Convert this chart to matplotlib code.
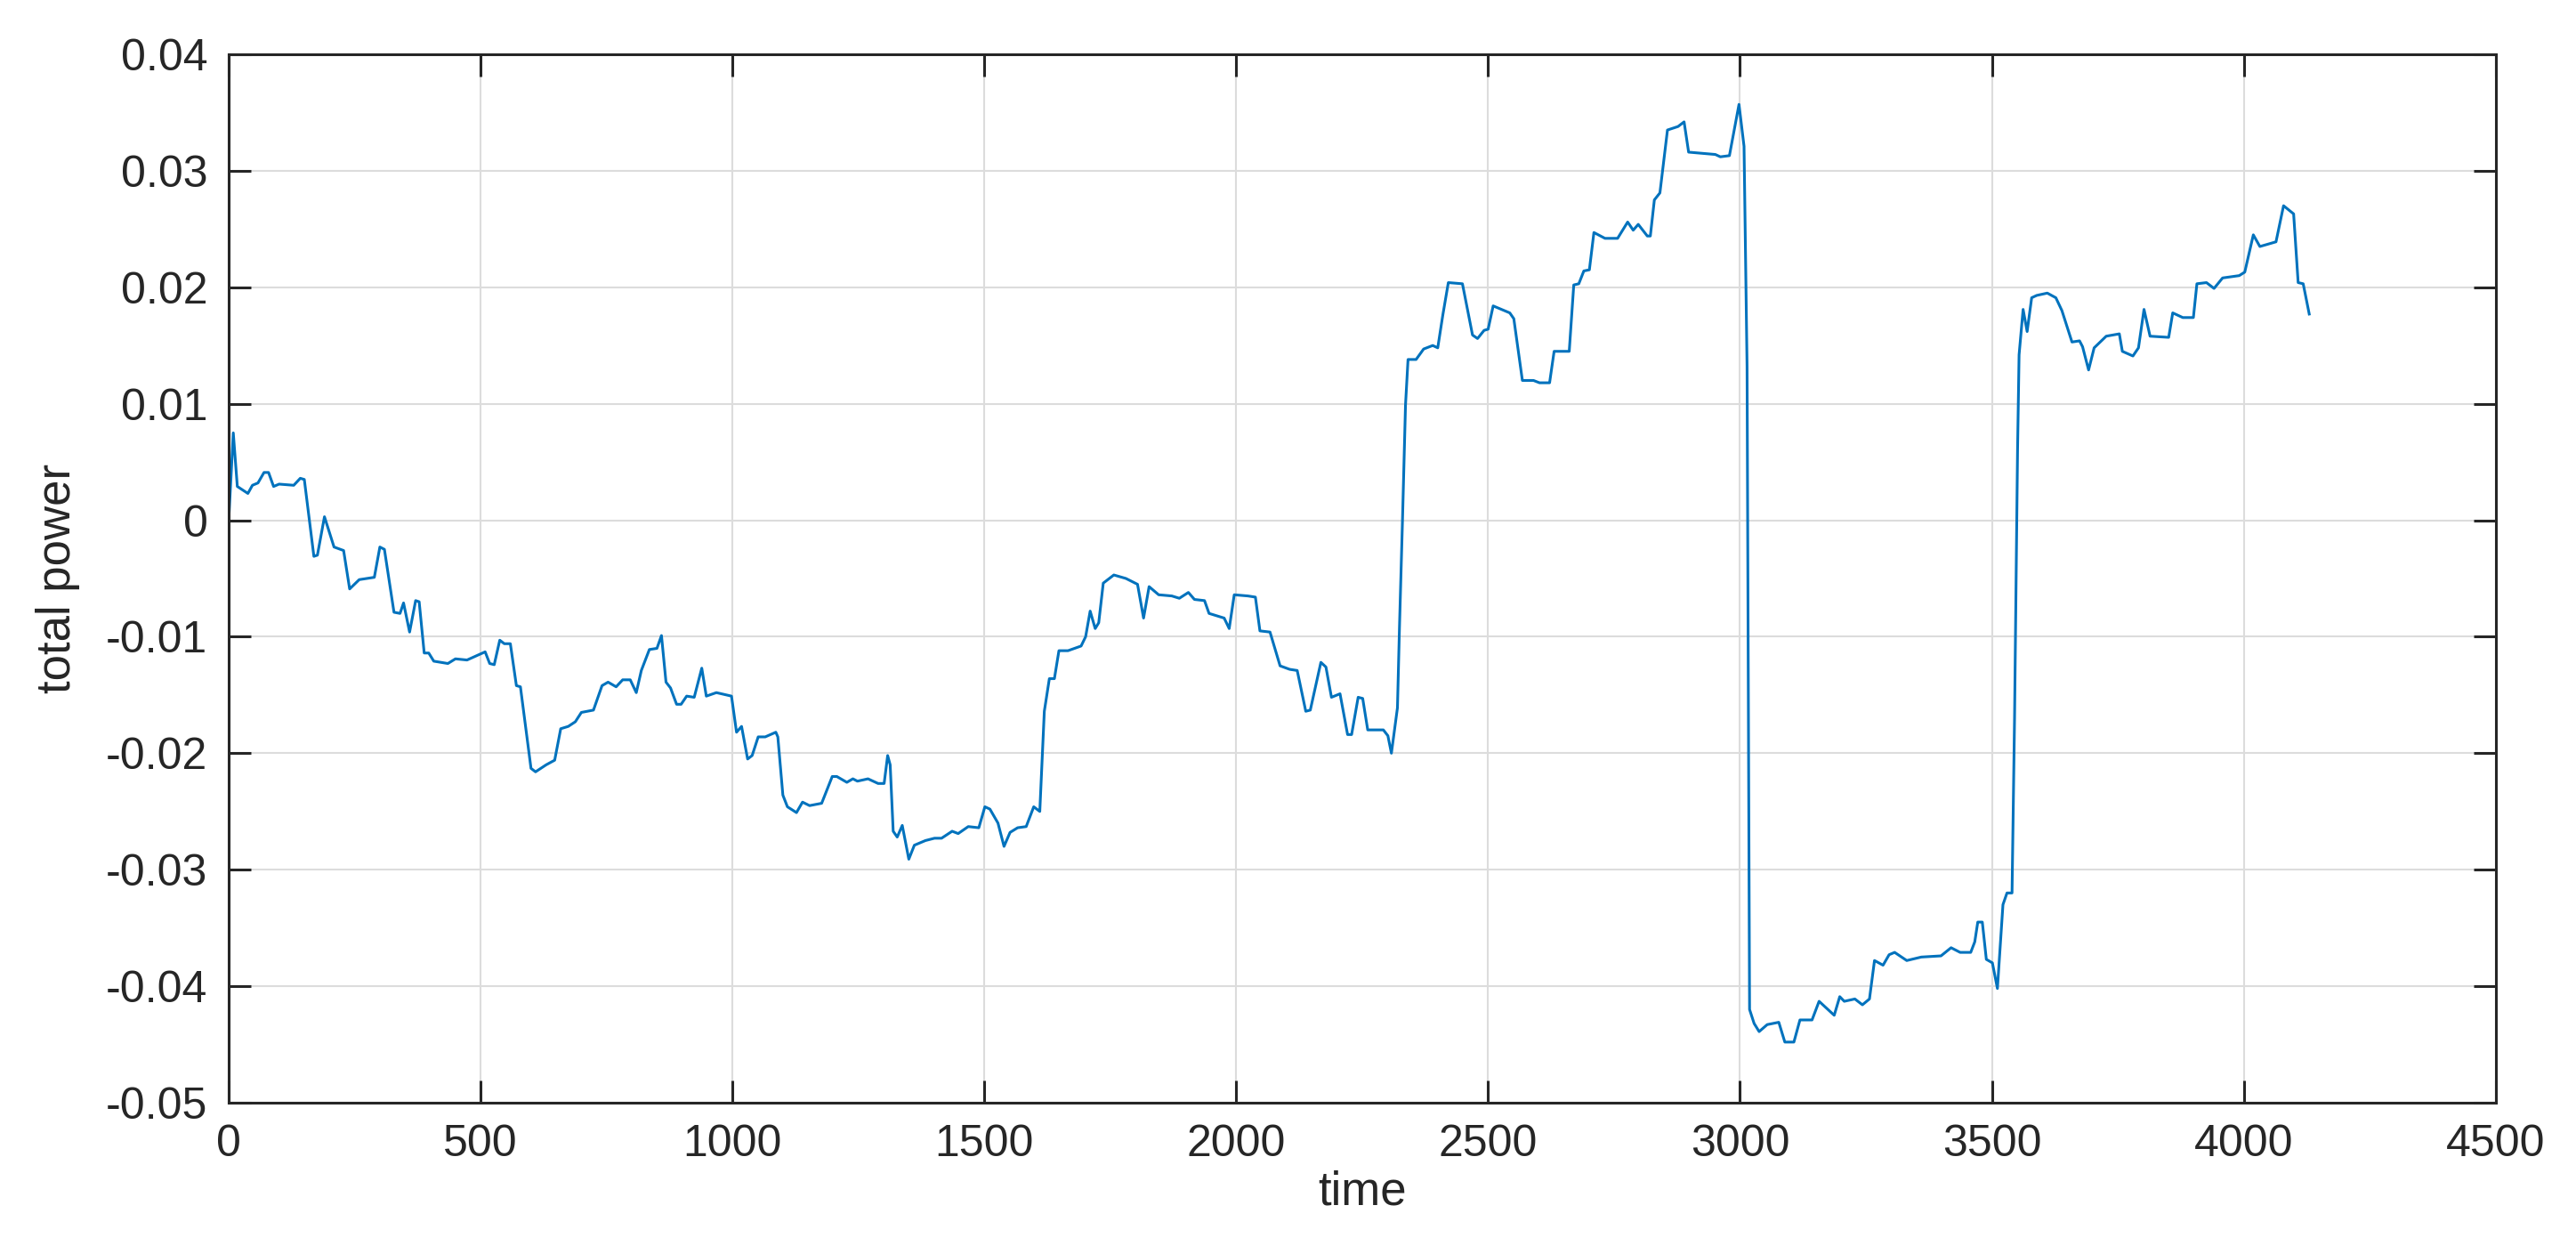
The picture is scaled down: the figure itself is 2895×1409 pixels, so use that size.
import numpy as np
import matplotlib
matplotlib.use("Agg")
import matplotlib.pyplot as plt

plt.rcParams['font.family'] = ['Liberation Sans', 'DejaVu Sans']
plt.rcParams['axes.unicode_minus'] = False

# time / total power
time = [
    0, 9, 17, 38, 47, 58, 70, 79, 89, 100, 129, 142, 150, 169, 176, 190, 209, 228,
    240, 259, 289, 300, 309, 328, 340, 347, 359, 371, 378, 388, 397, 407, 435, 450,
    473, 509, 518, 527, 538, 547, 559, 571, 579, 600, 609, 630, 647, 659, 674, 688,
    700, 724, 741, 753, 769, 782, 797, 809, 819, 835, 850, 859, 868, 877, 889, 898,
    909, 924, 939, 948, 968, 998, 1008, 1018, 1030, 1039, 1051, 1065, 1086, 1090,
    1100, 1109, 1127, 1139, 1153, 1177, 1198, 1207, 1227, 1239, 1248, 1269, 1289,
    1301, 1308, 1313, 1319, 1327, 1337, 1350, 1361, 1383, 1401, 1415, 1436, 1448,
    1468, 1489, 1501, 1511, 1527, 1539, 1551, 1566, 1583, 1598, 1610, 1619, 1629,
    1639, 1648, 1666, 1692, 1701, 1710, 1720, 1727, 1736, 1757, 1781, 1804, 1816,
    1827, 1846, 1872, 1887, 1905, 1917, 1937, 1946, 1976, 1986, 1996, 2023, 2038,
    2047, 2067, 2087, 2106, 2121, 2138, 2147, 2168, 2178, 2189, 2206, 2221, 2229,
    2242, 2251, 2261, 2292, 2301, 2308, 2320, 2324, 2330, 2336, 2341, 2357, 2372,
    2390, 2400, 2410, 2421, 2449, 2469, 2479, 2492, 2500, 2510, 2543, 2551, 2568,
    2590, 2602, 2622, 2631, 2661, 2670, 2680, 2690, 2701, 2710, 2732, 2757, 2777,
    2788, 2798, 2816, 2822, 2830, 2841, 2856, 2877, 2889, 2898, 2951, 2961, 2979,
    2998, 3008, 3014, 3019, 3028, 3038, 3054, 3077, 3089, 3107, 3119, 3143, 3157,
    3172, 3187, 3198, 3207, 3228, 3243, 3257, 3267, 3284, 3296, 3307, 3331, 3360,
    3399, 3419, 3437, 3458, 3466, 3472, 3481, 3489, 3501, 3511, 3522, 3530, 3540,
    3545, 3551, 3554, 3562, 3570, 3579, 3589, 3610, 3627, 3639, 3659, 3674, 3680,
    3692, 3703, 3727, 3753, 3759, 3780, 3791, 3802, 3814, 3851, 3859, 3879, 3900,
    3907, 3926, 3941, 3958, 3991, 4002, 4019, 4032, 4064, 4079, 4099, 4108, 4118,
    4130,
]
power = [
    0.0, 0.0075, 0.0029, 0.0023, 0.003, 0.0032, 0.0041, 0.0041, 0.0029, 0.0031,
    0.003, 0.0036, 0.0035, -0.0031, -0.003, 0.0003, -0.0023, -0.0026, -0.0059,
    -0.0051, -0.0049, -0.0023, -0.0025, -0.0079, -0.008, -0.0071, -0.0096, -0.0069,
    -0.007, -0.0114, -0.0114, -0.0121, -0.0123, -0.0119, -0.012, -0.0113, -0.0123,
    -0.0124, -0.0103, -0.0106, -0.0106, -0.0142, -0.0143, -0.0213, -0.0216, -0.021,
    -0.0206, -0.0179, -0.0177, -0.0173, -0.0165, -0.0163, -0.0142, -0.0139, -0.0143,
    -0.0137, -0.0137, -0.0148, -0.0129, -0.0111, -0.011, -0.0099, -0.0139, -0.0144,
    -0.0158, -0.0158, -0.0151, -0.0152, -0.0127, -0.0151, -0.0148, -0.0151, -0.0182,
    -0.0177, -0.0205, -0.0202, -0.0186, -0.0186, -0.0182, -0.0186, -0.0236, -0.0246,
    -0.0251, -0.0242, -0.0245, -0.0243, -0.022, -0.022, -0.0225, -0.0222, -0.0224,
    -0.0222, -0.0226, -0.0226, -0.0202, -0.021, -0.0267, -0.0272, -0.0262, -0.0291,
    -0.0279, -0.0275, -0.0273, -0.0273, -0.0267, -0.0269, -0.0263, -0.0264, -0.0246,
    -0.0248, -0.026, -0.028, -0.0268, -0.0264, -0.0263, -0.0246, -0.025, -0.0164,
    -0.0136, -0.0136, -0.0112, -0.0112, -0.0108, -0.01, -0.0078, -0.0093, -0.0088,
    -0.0054, -0.0047, -0.005, -0.0055, -0.0084, -0.0057, -0.0064, -0.0065, -0.0067,
    -0.0062, -0.0068, -0.0069, -0.008, -0.0084, -0.0093, -0.0064, -0.0065, -0.0066,
    -0.0095, -0.0096, -0.0125, -0.0128, -0.0129, -0.0164, -0.0163, -0.0122, -0.0126,
    -0.0152, -0.0149, -0.0184, -0.0184, -0.0152, -0.0153, -0.018, -0.018, -0.0185,
    -0.02, -0.0161, -0.0092, 0.0, 0.0099, 0.0138, 0.0138, 0.0147, 0.015, 0.0148,
    0.0176, 0.0204, 0.0203, 0.0159, 0.0156, 0.0163, 0.0164, 0.0184, 0.0178, 0.0173,
    0.012, 0.012, 0.0118, 0.0118, 0.0145, 0.0145, 0.0202, 0.0203, 0.0214, 0.0215,
    0.0247, 0.0242, 0.0242, 0.0256, 0.0249, 0.0254, 0.0244, 0.0244, 0.0275, 0.0281,
    0.0335, 0.0338, 0.0342, 0.0316, 0.0314, 0.0312, 0.0313, 0.0357, 0.0321, 0.0132,
    -0.042, -0.0432, -0.0439, -0.0433, -0.0431, -0.0448, -0.0448, -0.0429, -0.0429,
    -0.0413, -0.0419, -0.0425, -0.0409, -0.0413, -0.0411, -0.0416, -0.0411, -0.0378,
    -0.0382, -0.0373, -0.0371, -0.0378, -0.0375, -0.0374, -0.0367, -0.0371, -0.0371,
    -0.0362, -0.0345, -0.0345, -0.0377, -0.038, -0.0402, -0.033, -0.032, -0.032,
    -0.017, 0.0061, 0.0142, 0.0181, 0.0162, 0.0191, 0.0193, 0.0195, 0.0191, 0.018,
    0.0153, 0.0154, 0.0149, 0.0129, 0.0148, 0.0158, 0.016, 0.0145, 0.0141, 0.0148,
    0.0181, 0.0158, 0.0157, 0.0178, 0.0174, 0.0174, 0.0203, 0.0204, 0.0199, 0.0208,
    0.021, 0.0213, 0.0245, 0.0235, 0.0239, 0.027, 0.0263, 0.0204, 0.0203, 0.0177,
]

x_ticks = [0, 500, 1000, 1500, 2000, 2500, 3000, 3500, 4000, 4500]
y_ticks = [-0.05, -0.04, -0.03, -0.02, -0.01, 0, 0.01, 0.02, 0.03, 0.04]
y_tick_labels = ["-0.05", "-0.04", "-0.03", "-0.02", "-0.01", "0", "0.01", "0.02", "0.03", "0.04"]

fig = plt.figure(figsize=(28.95, 14.09), dpi=100)
ax = fig.add_axes([0.0888, 0.1207, 0.8800, 0.8360])

ax.plot(time, power, color="#0072BD", linewidth=2.2)

ax.set_xlim(0, 4500)
ax.set_ylim(-0.05, 0.04)
ax.set_xticks(x_ticks)
ax.set_xticklabels([str(v) for v in x_ticks])
ax.set_yticks(y_ticks)
ax.set_yticklabels(y_tick_labels)

ax.grid(True, color="#dcdcdc", linewidth=1.5)
ax.set_axisbelow(True)
for s in ax.spines.values():
    s.set_linewidth(2.2)
    s.set_color("#262626")
ax.tick_params(direction="in", length=18, width=2.2, color="#262626",
               top=True, right=True, labelsize=36, labelcolor="#262626")
ax.tick_params(axis="x", pad=17)
ax.tick_params(axis="y", pad=17)

ax.set_xlabel("time", fontsize=38, color="#262626", labelpad=4.5)
ax.set_ylabel("total power", fontsize=38, color="#262626", labelpad=21)

fig.savefig("out.png", dpi=100, facecolor="white")
